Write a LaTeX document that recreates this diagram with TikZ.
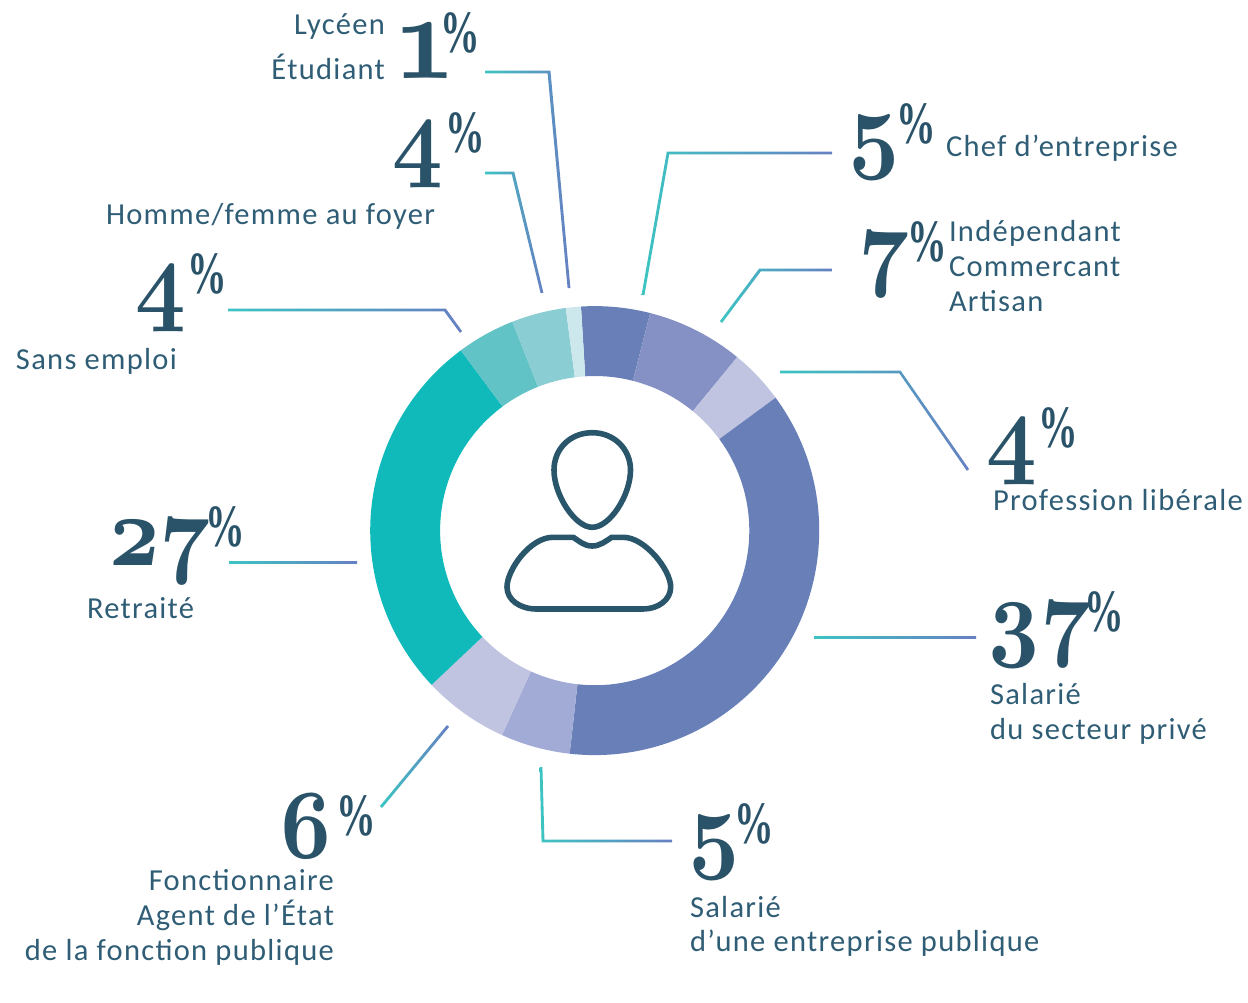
\documentclass[tikz,border=0pt]{standalone}
\usepackage{fontspec}
\usetikzlibrary{calc}
\setmainfont{Carlito}
\newfontfamily\bignumfont{lmroman10-bold.otf}[Numbers=OldStyle,FakeStretch=0.88]
\newfontfamily\pctfont{Liberation Serif}[FakeStretch=0.66,BoldFont={Liberation Serif Bold}]
\newfontfamily\labfont{Carlito}[LetterSpace=4.3]
\definecolor{txt}{HTML}{2F5D75}
\definecolor{num}{HTML}{2A5369}
\definecolor{lineA}{HTML}{3CC4C2}
\definecolor{lineB}{HTML}{6680C2}
\definecolor{cA}{HTML}{687FB8}
\definecolor{cB}{HTML}{8591C4}
\definecolor{cC}{HTML}{C0C4E1}
\definecolor{cD}{HTML}{A2ABD5}
\definecolor{cE}{HTML}{10BABB}
\definecolor{cF}{HTML}{61C3C6}
\definecolor{cG}{HTML}{8ACDD2}
\definecolor{cH}{HTML}{CDE8EC}
\definecolor{icon}{HTML}{2A566C}
\tikzset{
  lab/.style={inner sep=0pt,outer sep=0pt,text=txt,font=\fontsize{30.5}{35}\selectfont\labfont},
  bignum/.style={inner sep=0pt,outer sep=0pt,anchor=base west,text=num,font=\fontsize{100}{100}\selectfont\bignumfont},
  bigone/.style={bignum,font=\fontsize{122}{122}\selectfont\bignumfont},
  pct/.style={inner sep=0pt,outer sep=0pt,anchor=base west,text=num,font=\fontsize{60}{60}\selectfont\pctfont\bfseries},
  leader/.style={left color=lineA,right color=lineB,draw=none},
  iconline/.style={draw=icon,line width=5.6pt,line join=round}
}
% ring sector: colour, start angle, end angle
\newcommand{\sector}[3]{\fill[#1] ($(ctr)+(#2:224.5pt)$) arc[start angle=#2,end angle=#3,radius=224.5pt] -- ($(ctr)+(#3:154.6pt)$) arc[start angle=#3,end angle=#2,radius=154.6pt] -- cycle;}
% gradient leader, two points
\newcommand{\leadtwo}[4]{\shade[leader] ([shift={(#3,#4)}]#1) -- ([shift={(#3,#4)}]#2) -- ([shift={(-#3,-#4)}]#2) -- ([shift={(-#3,-#4)}]#1) -- cycle;}
% gradient leader, three points: offsets of first leg, elbow, last leg
\newcommand{\leadthree}[9]{\shade[leader] ([shift={(#4,#5)}]#1) -- ([shift={(#6,#7)}]#2) -- ([shift={(#8,#9)}]#3) -- ([shift={(-#8,-#9)}]#3) -- ([shift={(-#6,-#7)}]#2) -- ([shift={(-#4,-#5)}]#1) -- cycle;}
\begin{document}
\begin{tikzpicture}[x=1pt,y=-1pt]
\useasboundingbox (0,0) rectangle (1248,1002);
\coordinate (ctr) at (594.7,530.6);
\sector{cA}{93.5}{75.7}
\sector{cB}{75.7}{50.6}
\sector{cC}{50.6}{36.3}
\sector{cA}{36.3}{-96.4}
\sector{cD}{-96.4}{-114.4}
\sector{cC}{-114.4}{-136.6}
\sector{cE}{-136.6}{-233.4}
\sector{cF}{126.6}{111.5}
\sector{cG}{111.5}{97.4}
\sector{cH}{97.4}{93.5}
% person icon
\draw[iconline] (592.3,432.7) .. controls (570,432.7) and (554,449) .. (554,470) .. controls (554,495) and (575,527.3) .. (592.3,527.3) .. controls (610,527.3) and (630.5,495) .. (630.5,470) .. controls (630.5,449) and (614,432.7) .. (592.3,432.7) -- cycle;
\draw[iconline] (573.3,537.3) .. controls (579,541) and (584,546) .. (592.3,546) .. controls (600,546) and (606,541) .. (611.7,537.3) -- (623.3,537.3) .. controls (645,537.3) and (670.7,570) .. (670.7,587) .. controls (670.7,600) and (658,609) .. (643,609) -- (536.7,609) .. controls (520,609) and (507,600) .. (507,587) .. controls (507,570) and (530,537.3) .. (553,537.3) -- cycle;
% leader ends
\coordinate (a1) at (485,72); \coordinate (a2) at (549,72); \coordinate (a3) at (569,288);
\coordinate (b1) at (485,173); \coordinate (b2) at (513,173); \coordinate (b3) at (542,293);
\coordinate (c1) at (228,310); \coordinate (c2) at (445,310); \coordinate (c3) at (461,332);
\coordinate (d1) at (643,295); \coordinate (d2) at (668,153); \coordinate (d3) at (832,153);
\coordinate (e1) at (721,322); \coordinate (e2) at (760,270); \coordinate (e3) at (832,270);
\coordinate (f1) at (780,372); \coordinate (f2) at (900,372); \coordinate (f3) at (968,470);
\coordinate (g1) at (814,637); \coordinate (g2) at (976,637);
\coordinate (h1) at (541,767); \coordinate (h2) at (543,841); \coordinate (h3) at (672,841);
\coordinate (i1) at (381,807); \coordinate (i2) at (448,726);
\coordinate (j1) at (229,562); \coordinate (j2) at (357,562);
\leadthree{a1}{a2}{a3}{0}{-1.4}{1.4}{-1.4}{1.4}{0}
\leadthree{b1}{b2}{b3}{0}{-1.4}{1.2}{-1.4}{1.35}{-.3}
\leadthree{c1}{c2}{c3}{0}{-1.4}{.8}{-1.4}{1.1}{-.8}
\leadthree{d1}{d2}{d3}{-1.4}{-.25}{-1.2}{-1.4}{0}{-1.4}
\leadthree{e1}{e2}{e3}{-1.1}{-.85}{-.8}{-1.4}{0}{-1.4}
\leadthree{f1}{f2}{f3}{0}{-1.4}{.6}{-1.4}{1.15}{-.8}
\leadtwo{g1}{g2}{0}{1}
\leadthree{h1}{h2}{h3}{-1.4}{0}{-1.4}{1.4}{0}{1.4}
\leadtwo{i1}{i2}{1.1}{.9}
\leadtwo{j1}{j2}{0}{1}
% big figures
\node[bigone] (n1) at (398,78) {1};
\node[pct] (p1) at (440,52) {\%};
\node[bignum] (n2) at (391,168) {4};
\node[pct] (p2) at (445,152) {\%};
\node[bignum] (n3) at (134,312) {4};
\node[pct] (p3) at (187,293) {\%};
\node[bignum] (n4) at (846,160) {5};
\node[pct] (p4) at (896,143) {\%};
\node[bignum] (n5) at (860,278) {7};
\node[pct] (p5) at (907,261) {\%};
\node[bignum] (n6) at (985,465) {4};
\node[pct] (p6) at (1038,447) {\%};
\node[bignum] (n7) at (106,565) {27};
\node[pct] (p7) at (205,546) {\%};
\node[bignum] (n8) at (985,648) {37};
\node[pct] (p8) at (1084,631) {\%};
\node[bignum] (n9) at (686,860) {5};
\node[pct] (p9) at (734,843) {\%};
\node[bignum] (n10) at (277,858) {6};
\node[pct] (p10) at (336,835) {\%};
% labels
\node[lab,anchor=base east] (t1) at (385,34) {Lycéen};
\node[lab,anchor=base east] (t1b) at (385,79) {Étudiant};
\node[lab,anchor=base west] (t2) at (106,224) {Homme/femme au foyer};
\node[lab,anchor=base west] (t3) at (16,369) {Sans emploi};
\node[lab,anchor=base west] (t4) at (946,156) {Chef d’entreprise};
\node[lab,anchor=base west] (t5) at (949,241) {Indépendant};
\node[lab,anchor=base west] (t5b) at (949,276) {Commercant};
\node[lab,anchor=base west] (t5c) at (949,311) {Artisan};
\node[lab,anchor=base west] (t6) at (993,510) {Profession libérale};
\node[lab,anchor=base west] (t7) at (87,618) {Retraité};
\node[lab,anchor=base west] (t8) at (990,704) {Salarié};
\node[lab,anchor=base west] (t8b) at (990,739) {du secteur privé};
\node[lab,anchor=base west] (t9) at (690,917) {Salarié};
\node[lab,anchor=base west] (t9b) at (690,951) {d’une entreprise publique};
\node[lab,anchor=base east] (t10) at (334,890) {Fonctionnaire};
\node[lab,anchor=base east] (t10b) at (334,925) {Agent de l’État};
\node[lab,anchor=base east] (t10c) at (334,960) {de la fonction publique};
\end{tikzpicture}
\end{document}
